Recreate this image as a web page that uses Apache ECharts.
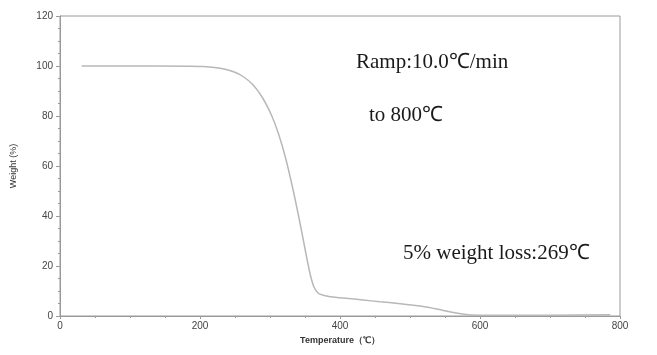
<!DOCTYPE html>
<html>
<head>
<meta charset="utf-8">
<script src="https://cdn.jsdelivr.net/npm/echarts@6/dist/echarts.min.js"></script>
<style>html,body{margin:0;padding:0;background:#fff;}#c{width:657px;height:355px;}</style>
</head>
<body>
<div id="c"></div>
<script>
var temperature = [31, 100, 180, 205, 229, 248, 262, 276, 290, 302, 312, 322, 333, 343, 352, 358, 363, 369, 376, 386, 400, 433, 457, 483, 505, 525, 545, 560, 575, 590, 610, 700, 786];
var weight = [100, 100, 99.9, 99.8, 99.1, 97.7, 95.7, 92.4, 87, 80.4, 73, 63.5, 50.4, 37, 24, 16, 11.5, 9.1, 8.3, 7.7, 7.3, 6.4, 5.7, 5.0, 4.3, 3.5, 2.4, 1.5, 0.8, 0.4, 0.3, 0.3, 0.5];
var xTicks = [0, 200, 400, 600, 800];
var yTicks = [0, 20, 40, 60, 80, 100, 120];
var annotations = ["Ramp:10.0\u2103/min", "to 800\u2103", "5% weight loss:269\u2103"];

var chart = echarts.init(document.getElementById('c'));
var pts = temperature.map(function (t, i) { return [t, weight[i]]; });
var axisColor = '#9a9a9a';
var labelFont = { color: '#444', fontSize: 10, fontFamily: 'Liberation Sans, Arial, sans-serif' };
var serif = '21px "Liberation Serif", "Times New Roman", serif';
chart.setOption({
  animation: false,
  backgroundColor: '#fff',
  grid: { left: 60, right: 37, top: 16, bottom: 39, show: true, borderColor: axisColor, borderWidth: 1 },
  xAxis: {
    type: 'value', min: xTicks[0], max: xTicks[xTicks.length - 1], interval: 200,
    name: 'Temperature\uff08\u2103\uff09', nameLocation: 'middle', nameGap: 17,
    nameTextStyle: { color: '#333', fontSize: 9, fontWeight: 'bold', fontFamily: 'Liberation Sans, Arial, sans-serif' },
    axisLine: { lineStyle: { color: axisColor } },
    axisTick: { length: 3, lineStyle: { color: axisColor } },
    minorTick: { show: true, splitNumber: 4, length: 2, lineStyle: { color: axisColor } },
    splitLine: { show: false },
    axisLabel: Object.assign({ margin: 5 }, labelFont)
  },
  yAxis: {
    type: 'value', min: yTicks[0], max: yTicks[yTicks.length - 1], interval: 20,
    name: 'Weight (%)', nameLocation: 'middle', nameGap: 42, nameRotate: 90,
    nameTextStyle: { color: '#333', fontSize: 9, fontFamily: 'Liberation Sans, Arial, sans-serif' },
    axisLine: { show: true, lineStyle: { color: axisColor } },
    axisTick: { show: true, length: 4, lineStyle: { color: axisColor } },
    minorTick: { show: true, splitNumber: 4, length: 2, lineStyle: { color: axisColor } },
    splitLine: { show: false },
    axisLabel: Object.assign({ margin: 7 }, labelFont)
  },
  series: [{
    type: 'line', data: pts, smooth: 0.3, showSymbol: false,
    lineStyle: { color: '#b8b8b8', width: 1.5 }
  }],
  graphic: [
    { type: 'text', x: 356, y: 73, style: { text: annotations[0], font: serif, fill: '#1a1a1a', verticalAlign: 'bottom' } },
    { type: 'text', x: 369, y: 126, style: { text: annotations[1], font: serif, fill: '#1a1a1a', verticalAlign: 'bottom' } },
    { type: 'text', x: 403, y: 264, style: { text: annotations[2], font: serif, fill: '#1a1a1a', verticalAlign: 'bottom' } }
  ]
});
</script>
</body>
</html>
